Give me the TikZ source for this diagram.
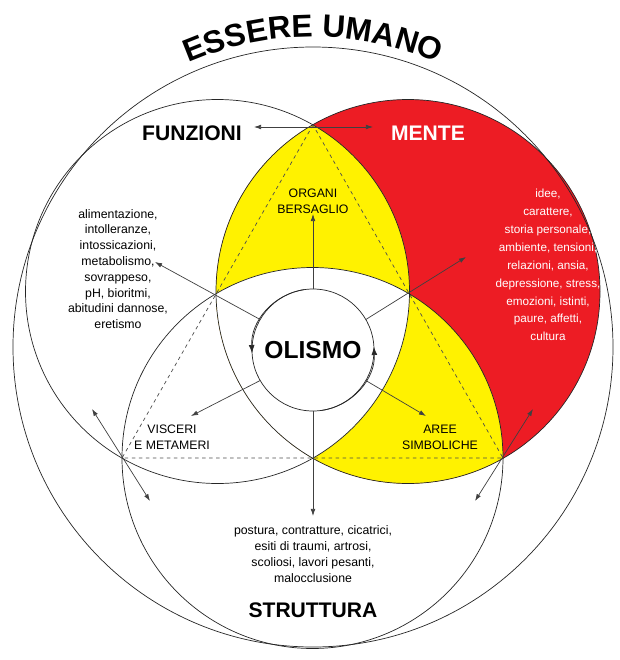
\documentclass[tikz,border=0pt]{standalone}
\usepackage{fontspec}
\setmainfont{Liberation Sans}
\usetikzlibrary{decorations.text,arrows.meta}
\definecolor{mred}{RGB}{237,28,36}
\definecolor{myellow}{RGB}{255,242,0}
\tikzset{
  ring/.style={draw=black!85,line width=0.6pt},
  pointer/.style={draw=black!75,line width=0.6pt,-{Latex[length=6pt,width=4pt]}},
  twoway/.style={draw=black!75,line width=0.6pt,{Latex[length=6pt,width=4pt]}-{Latex[length=6pt,width=4pt]}},
  title/.style={font=\bfseries\fontsize{18}{20}\selectfont},
  list/.style={font=\fontsize{10.5}{13.5}\selectfont,align=center},
}
\begin{document}
\begin{tikzpicture}[x=0.03cm,y=-0.03cm]
\useasboundingbox (0,0) rectangle (620,660);
% circle centres
\coordinate (F) at (217.5,291.5);
\coordinate (M) at (408,291.5);
\coordinate (S) at (312.5,458);
\coordinate (O) at (313,350);
\coordinate (top) at (313,125);
\coordinate (lft) at (122,458);
\coordinate (rgt) at (503,458);
% fills
\fill[mred] (M) circle (192);
\begin{scope}
  \clip (M) circle (192);
  \fill[myellow] (F) circle (192);
  \fill[myellow] (S) circle (190.5);
  \clip (F) circle (192);
  \fill[white] (S) circle (190.5);
\end{scope}
\fill[white] (O) circle (61);
% rings
\draw[ring] (313,347) circle (300);
\draw[ring] (F) circle (192);
\draw[ring] (M) circle (192);
\draw[ring] (S) circle (190.5);
\draw[ring] (O) circle (61);
\draw[ring,-{Latex[length=7pt,width=5pt]}] (O) ++(262:61) arc (262:177:61);
\draw[ring,-{Latex[length=7pt,width=5pt]}] (O) ++(82:61) arc (82:-3:61);
\draw[black!70,dashed,line width=0.6pt] (top) -- (lft) -- (rgt) -- cycle;
% title
\path[decorate,decoration={text along path,text align=center,
  text={|\bfseries\fontsize{27}{30}\selectfont|ESSERE UMANO}}]
  (313,350) ++(201:313) arc (201:339:313);
% texts
\node[title] (fun) at (192,133) {FUNZIONI};
\node[title,white] (men) at (428,133) {MENTE};
\node[title] (str) at (313,610) {STRUTTURA};
\node[font=\bfseries\fontsize{21}{24}\selectfont] (ol) at (O) {OLISMO};
\node[list] (org) at (313,201) {ORGANI\\BERSAGLIO};
\node[list] (fl) at (118,269) {alimentazione,\\intolleranze,\\intossicazioni,\\metabolismo,\\sovrappeso,\\pH, bioritmi,\\abitudini dannose,\\eretismo};
\node[list,white,font=\fontsize{10}{15.3}\selectfont] (ml) at (548,265) {idee,\\carattere,\\storia personale,\\ambiente, tensioni,\\relazioni, ansia,\\depressione, stress,\\emozioni, istinti,\\paure, affetti,\\cultura};
\node[list] (vis) at (172,437) {VISCERI\\E METAMERI};
\node[list] (aree) at (440,437) {AREE\\SIMBOLICHE};
\node[list] (sl) at (313,554) {postura, contratture, cicatrici,\\esiti di traumi, artrosi,\\scoliosi, lavori pesanti,\\malocclusione};
% pointers
\coordinate (pu) at (313,214);
\coordinate (pul) at (155,262);
\coordinate (pur) at (466,257);
\coordinate (pdl) at (191,416);
\coordinate (pdr) at (426,416);
\coordinate (pd) at (313,516);
\draw[pointer] (O) ++(270:61) -- (pu);
\draw[pointer] (O) ++(210:61) -- (pul);
\draw[pointer] (O) ++(330:61) -- (pur);
\draw[pointer] (O) ++(150:61) -- (pdl);
\draw[pointer] (O) ++(30:61) -- (pdr);
\draw[pointer] (O) ++(90:61) -- (pd);
\coordinate (a1) at (254,127);
\coordinate (a2) at (373,127);
\coordinate (b1) at (92,409);
\coordinate (b2) at (150,501);
\coordinate (c1) at (533,409);
\coordinate (c2) at (475,501);
\draw[twoway] (a1) -- (a2);
\draw[twoway] (b1) -- (b2);
\draw[twoway] (c1) -- (c2);
\end{tikzpicture}
\end{document}
